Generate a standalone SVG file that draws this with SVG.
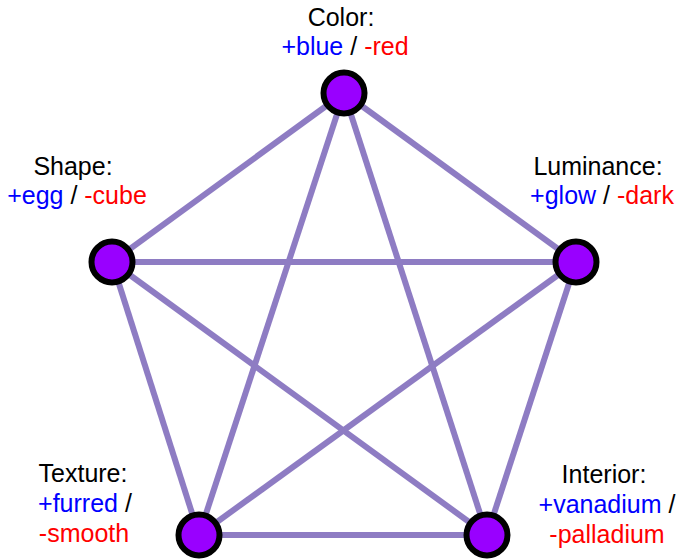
<svg xmlns="http://www.w3.org/2000/svg" width="677" height="559" viewBox="0 0 677 559">
<style>
.edge{stroke:#8e7cc3;stroke-width:6;fill:none}
.node{fill:#9900ff;stroke:#000;stroke-width:6}
text{font-family:"Liberation Sans",Arial,sans-serif;font-size:25px;fill:#000;text-anchor:middle}
.pos{fill:#0000ff}
.neg{fill:#ff0000}
</style>
<rect width="677" height="559" fill="#fff"/>
<g id="connectors">
<line class="edge" x1="344" y1="93" x2="112" y2="262"/>
<line class="edge" x1="344" y1="93" x2="576" y2="262"/>
<line class="edge" x1="344" y1="93" x2="199" y2="535"/>
<line class="edge" x1="344" y1="93" x2="487" y2="535"/>
<line class="edge" x1="112" y1="262" x2="576" y2="262"/>
<line class="edge" x1="112" y1="262" x2="199" y2="535"/>
<line class="edge" x1="112" y1="262" x2="487" y2="535"/>
<line class="edge" x1="576" y1="262" x2="199" y2="535"/>
<line class="edge" x1="576" y1="262" x2="487" y2="535"/>
<line class="edge" x1="199" y1="535" x2="487" y2="535"/>
</g>
<g id="color">
<circle class="node" cx="344" cy="93" r="20.5"/>
<text x="341" y="26">Color:</text>
<text x="345" y="55"><tspan class="pos">+blue</tspan> / <tspan class="neg">-red</tspan></text>
</g>
<g id="shape">
<circle class="node" cx="112" cy="262" r="20.5"/>
<text x="73" y="175">Shape:</text>
<text x="77" y="204"><tspan class="pos">+egg</tspan> / <tspan class="neg">-cube</tspan></text>
</g>
<g id="luminance">
<circle class="node" cx="576" cy="262" r="20.5"/>
<text x="598" y="175">Luminance:</text>
<text x="602" y="204"><tspan class="pos">+glow</tspan> / <tspan class="neg">-dark</tspan></text>
</g>
<g id="texture">
<circle class="node" cx="199" cy="535" r="20.5"/>
<text x="83" y="482">Texture:</text>
<text x="85" y="512"><tspan class="pos">+furred</tspan> /</text>
<text x="84" y="542" class="neg">-smooth</text>
</g>
<g id="interior">
<circle class="node" cx="487" cy="535" r="20.5"/>
<text x="604" y="483">Interior:</text>
<text x="607" y="513"><tspan class="pos">+vanadium</tspan> /</text>
<text x="607" y="543" class="neg">-palladium</text>
</g>
</svg>
